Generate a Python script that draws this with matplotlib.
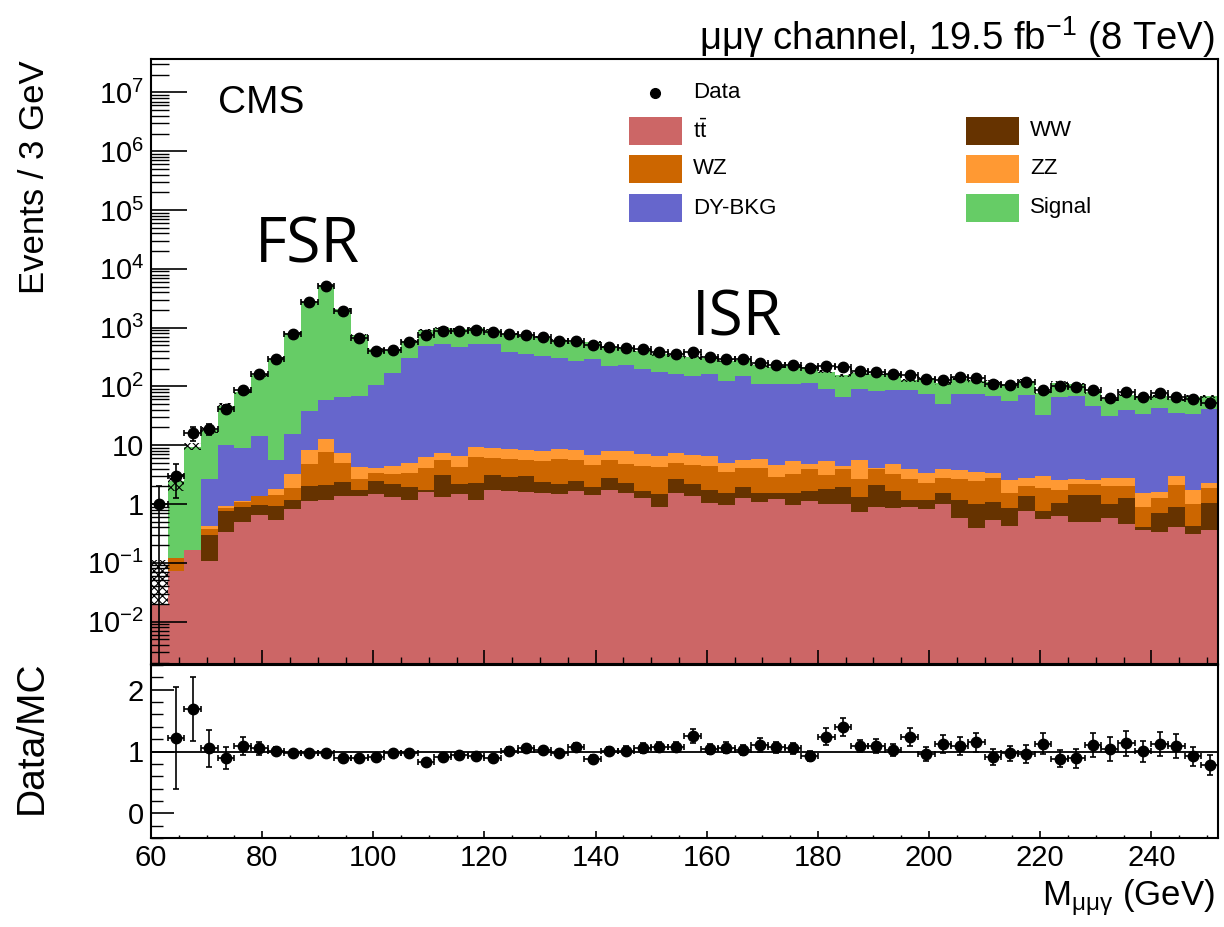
import numpy as np
import matplotlib
matplotlib.use('Agg')
import matplotlib.pyplot as plt
from matplotlib.ticker import FixedLocator, MultipleLocator, FuncFormatter, LogLocator, NullFormatter
from matplotlib.patches import Rectangle
from matplotlib.lines import Line2D

plt.rcParams['font.family'] = ['Liberation Sans', 'DejaVu Sans']
plt.rcParams['mathtext.fontset'] = 'custom'
plt.rcParams['mathtext.rm'] = 'Liberation Sans'
plt.rcParams['mathtext.it'] = 'Liberation Sans:italic'
plt.rcParams['mathtext.bf'] = 'Liberation Sans:bold'
plt.rcParams['hatch.linewidth'] = 0.8

# 3 GeV bins from 60 to 252 GeV
edges = np.arange(60, 253, 3)
centers = edges[:-1] + 1.5

# expected yields per bin, stacked bottom to top
tt = [0.019, 0.072, 0.166, 0.107, 0.34, 0.49, 0.64, 0.53, 0.83, 1.11,
      1.19, 1.35, 1.35, 1.5, 1.32, 1.19, 1.6, 1.32, 1.46, 1.15,
      1.75, 1.66, 1.57, 1.54, 1.5, 1.64, 1.44, 1.71, 1.56, 1.27,
      0.89, 1.56, 1.35, 1.05, 0.97, 1.27, 1.08, 1.2, 0.97, 1.11,
      0.99, 1.01, 0.73, 0.89, 0.87, 0.89, 0.83, 0.99, 0.585, 0.39,
      0.53, 0.42, 0.76, 0.55, 0.62, 0.49, 0.5, 0.585, 0.45, 0.365,
      0.33, 0.405, 0.31, 0.356]
ww = [0, 0, 0, 0.193, 0.42, 0.40, 0.31, 0.38, 0.32, 0.89,
      0.89, 0.99, 0.35, 1.0, 0.88, 0.76, 0.15, 1.78, 0.74, 1.15,
      1.35, 1.24, 1.38, 0.83, 0.72, 0.79, 0.51, 1.1, 0.72, 0.4,
      0.61, 1.14, 0.87, 0.66, 0.57, 0.68, 0.46, 0.36, 0.57, 0.56,
      0.84, 0.94, 0.59, 1.25, 0.77, 0.27, 0.33, 0.57, 0.57, 0.6,
      0.55, 0.45, 0.59, 0.2, 0.43, 0.91, 0.9, 0.4, 0.82, 0.04,
      0.38, 0.48, 0.12, 0.68]
wz = [0, 0.05, 0, 0.08, 0.11, 0.18, 0.40, 0.53, 0.75, 2.7,
      5.6, 2.56, 1.0, 0.9, 1.0, 1.45, 2.35, 2.6, 2.1, 4.0,
      3.0, 3.0, 2.55, 3.0, 3.7, 3.1, 2.7, 2.9, 2.6, 2.8,
      2.77, 2.35, 2.46, 2.67, 1.96, 2.2, 2.56, 1.33, 1.66, 2.2,
      1.25, 1.95, 1.38, 1.76, 1.65, 1.55, 1.12, 1.25, 1.55, 1.48,
      1.73, 0.69, 0.68, 1.12, 0.66, 0.82, 0.76, 1.0, 0.73, 0.47,
      0.56, 1.25, 0.58, 0.83]
zz = [0, 0, 0, 0.04, 0.04, 0.04, 0.03, 0.39, 1.3, 3.5,
      5.3, 2.5, 1.6, 0.7, 1.2, 1.5, 2.1, 1.8, 2.3, 3.1,
      2.9, 2.7, 2.8, 2.6, 2.6, 2.85, 2.1, 2.2, 3.1, 2.55,
      2.2, 2.45, 2.2, 2.1, 1.55, 1.4, 1.8, 1.67, 2.2, 0.83,
      2.3, 0.55, 2.85, 0.26, 1.58, 1.3, 1.1, 1.2, 1.05, 1.03,
      0.61, 0.97, 0.74, 1.09, 0.89, 0.41, 0.37, 0.77, 0.81, 0.67,
      0.31, 0.86, 0.7, 0.41]
dy_bkg = [0, 0, 0, 2.28, 9.1, 7.7, 12.8, 3.7, 12.6, 29.8,
          45, 57.6, 63.7, 101, 165.6, 305, 484, 512, 468, 511,
          511, 381, 347, 325, 300, 262, 284, 218, 224, 190,
          171.5, 154.5, 144, 155.5, 120, 144.5, 102, 107.4, 106.6, 110,
          83.6, 62, 83.5, 79, 81.6, 82.5, 70.6, 47, 70.3, 70.5,
          65.6, 54.5, 68.2, 29.6, 64, 65.4, 44.3, 28.2, 37.6, 32.3,
          41.1, 32.5, 32.1, 38.7]
signal = [0, 2.34, 9.33, 15.4, 36.9, 71, 140, 290, 788, 2717,
          5300, 2045, 674, 335, 248, 283, 426, 453, 466, 469,
          402, 388, 369, 356, 311, 288, 283, 244, 219, 206,
          174, 172, 161, 146, 150, 130, 120, 104, 107, 103,
          90, 88, 78, 80, 73, 39.5, 63.5, 63, 60, 48,
          52, 51, 54, 45, 48, 40, 32, 29.6, 31.3, 32,
          25, 25, 32.5, 27]

# relative MC uncertainty (hatched band)
mc_rel_err = [4.8, 0.33, 0.14, 0.12, 0.10, 0.08, 0.06, 0.05, 0.04, 0.04,
              0.04, 0.04, 0.04, 0.04, 0.04, 0.04, 0.04, 0.04, 0.04, 0.04,
              0.04, 0.04, 0.04, 0.04, 0.04, 0.04, 0.04, 0.04, 0.04, 0.04,
              0.05, 0.05, 0.05, 0.05, 0.05, 0.05, 0.05, 0.05, 0.05, 0.05,
              0.06, 0.06, 0.06, 0.06, 0.06, 0.06, 0.06, 0.06, 0.06, 0.06,
              0.06, 0.06, 0.06, 0.06, 0.06, 0.06, 0.06, 0.06, 0.06, 0.06,
              0.06, 0.06, 0.06, 0.06]

data = [1, 3, 16, 19, 42, 87, 162, 297, 780, 2700,
        5200, 1900, 660, 400, 410, 575, 760, 885, 885, 920,
        830, 790, 760, 703, 600, 600, 505, 475, 456, 427,
        380, 356, 390, 320, 292, 288, 253, 230, 230, 203,
        222, 216, 182, 178, 163, 156, 132, 128, 146, 140,
        110, 105, 120, 87, 101, 96, 87, 63, 81, 66,
        76, 66, 61, 53]

# uncertainty on data/MC (first bin is off scale)
ratio_err = [np.nan, 0.82, 0.52, 0.30, 0.18, 0.15, 0.10, 0.06, 0.04, 0.04,
             0.04, 0.04, 0.04, 0.05, 0.05, 0.05, 0.05, 0.05, 0.05, 0.05,
             0.05, 0.06, 0.06, 0.06, 0.06, 0.07, 0.07, 0.07, 0.07, 0.08,
             0.08, 0.08, 0.11, 0.08, 0.09, 0.08, 0.115, 0.09, 0.09, 0.08,
             0.14, 0.15, 0.10, 0.11, 0.10, 0.15, 0.12, 0.14, 0.14, 0.15,
             0.13, 0.12, 0.14, 0.17, 0.14, 0.15, 0.20, 0.20, 0.20, 0.17,
             0.20, 0.20, 0.15, 0.16]

process_names = [r'$\mathrm{t}\bar{\mathrm{t}}$', 'WW', 'WZ', 'ZZ', 'DY-BKG', 'Signal']
process_colors = ['#cc6666', '#663300', '#cc6600', '#ff9933', '#6666cc', '#66cc66']
process_yields = [tt, ww, wz, zz, dy_bkg, signal]

W, H = 1224, 927


def box(x0, y0, x1, y1):
    return [x0 / W, 1 - y1 / H, (x1 - x0) / W, (y1 - y0) / H]


fig = plt.figure(figsize=(W / 100, H / 100), dpi=100)
ax = fig.add_axes(box(151, 59, 1218, 664))
rax = fig.add_axes(box(151, 665, 1218, 838))

floor = 1e-6
cum = np.zeros(len(centers))
levels = []
for vals, color in zip(process_yields, process_colors):
    cum = cum + np.array(vals, dtype=float)
    levels.append((cum.copy(), color))
mc_total = levels[-1][0]

# draw cumulative stacks from the top down so lower ones sit in front
for top, color in reversed(levels):
    ax.stairs(np.maximum(top, floor), edges, baseline=floor, fill=True,
              facecolor=color, edgecolor='none', lw=0)

# hatched MC uncertainty; an error larger than the yield only extends upwards
rel = np.array(mc_rel_err)
band_hi = mc_total * (1 + rel)
band_lo = np.where(rel < 1, mc_total * (1 - rel), mc_total)
ax.stairs(band_hi, edges, baseline=band_lo, fill=True, facecolor='none',
          edgecolor='black', hatch='xxxx', lw=0)

data = np.array(data, dtype=float)
ax.errorbar(centers, data, xerr=1.5, yerr=np.sqrt(data), fmt='o', color='black',
            ms=7.5, elinewidth=1.2, capsize=2, capthick=1.2)

ax.set_yscale('log')
ax.set_xlim(60, 252)
ax.set_ylim(1.9e-3, 3.7e7)


def pow_label(v, pos):
    e = int(round(np.log10(v)))
    if e == 0:
        return '1'
    if e == 1:
        return '10'
    return r'$\mathregular{10^{%d}}$' % e


ax.yaxis.set_major_locator(FixedLocator(10.0 ** np.arange(-2, 8)))
ax.yaxis.set_major_formatter(FuncFormatter(pow_label))
ax.yaxis.set_minor_locator(LogLocator(base=10, subs=np.arange(2, 10), numticks=100))
ax.yaxis.set_minor_formatter(NullFormatter())
ax.xaxis.set_major_locator(MultipleLocator(20))
ax.xaxis.set_minor_locator(MultipleLocator(5))
ax.tick_params(axis='y', which='major', direction='in', length=26, width=1.2,
               labelsize=21, pad=5)
ax.tick_params(axis='y', which='minor', direction='in', length=13, width=1.0)
ax.tick_params(axis='x', which='major', direction='in', length=10, width=1.2,
               labelbottom=False)
ax.tick_params(axis='x', which='minor', direction='in', length=5, width=1.0)

# ratio panel
ratio = data / mc_total
rerr = np.array(ratio_err)
ok = np.isfinite(rerr)
rax.axhline(1, color='black', lw=1.3)
rax.errorbar(centers[ok], ratio[ok], xerr=1.5, yerr=rerr[ok], fmt='o', color='black',
             ms=7.5, elinewidth=1.2, capsize=2, capthick=1.2)
rax.set_xlim(60, 252)
rax.set_ylim(-0.4, 2.4)
rax.yaxis.set_major_locator(FixedLocator([0, 1, 2]))
rax.yaxis.set_minor_locator(MultipleLocator(0.2))
rax.xaxis.set_major_locator(MultipleLocator(20))
rax.xaxis.set_minor_locator(MultipleLocator(5))
rax.tick_params(axis='y', which='major', direction='in', length=16.5, width=1.2,
                labelsize=21, pad=5)
rax.tick_params(axis='y', which='minor', direction='in', length=8.6, width=1.0)
rax.tick_params(axis='x', which='major', direction='in', length=5, width=1.2,
                labelsize=21, pad=4)
rax.tick_params(axis='x', which='minor', direction='in', length=2.5, width=1.0)

for a in (ax, rax):
    for s in a.spines.values():
        s.set_linewidth(1.5)

# legend, laid out by hand in two columns
rows_y = [131, 169, 208]
left_col = [0, 2, 4]
right_col = [1, 3, 5]
fig.add_artist(Line2D([655 / W], [1 - 93 / H], marker='o', ms=7, color='black',
                      transform=fig.transFigure))
fig.text(693 / W, 1 - 93 / H, 'Data', fontsize=16, va='center')
for col, (bx, tx) in zip((left_col, right_col), ((629, 693), (966, 1030))):
    for row, idx in enumerate(col):
        yc = rows_y[row]
        fig.add_artist(Rectangle((bx / W, 1 - (yc + 14) / H), 53 / W, 28 / H,
                                 transform=fig.transFigure,
                                 facecolor=process_colors[idx], edgecolor='none'))
        fig.text(tx / W, 1 - yc / H, process_names[idx], fontsize=16, va='center')

fig.text(218 / W, 1 - 113 / H, 'CMS', fontsize=28, va='baseline')
fig.text(255 / W, 1 - 263 / H, 'FSR', family='Open Sans', fontsize=45, va='baseline')
fig.text(692 / W, 1 - 335 / H, 'ISR', family='Open Sans', fontsize=45, va='baseline')
fig.text(1215 / W, 1 - 50 / H, r'μμγ channel, 19.5 fb$^{\mathregular{-1}}$ (8 TeV)',
         ha='right', va='baseline', fontsize=27.5)

fig.text(35 / W, 1 - 60 / H, 'Events / 3 GeV', rotation=90, ha='center', va='top',
         fontsize=25)
fig.text(32 / W, 1 - 737 / H, 'Data/MC', rotation=90, ha='center', va='center',
         fontsize=28)
fig.text(1215 / W, 1 - 905 / H, r'M$_{\mathregular{μμγ}}$ (GeV)', ha='right',
         va='baseline', fontsize=25)

fig.savefig('out.png', dpi=100)
